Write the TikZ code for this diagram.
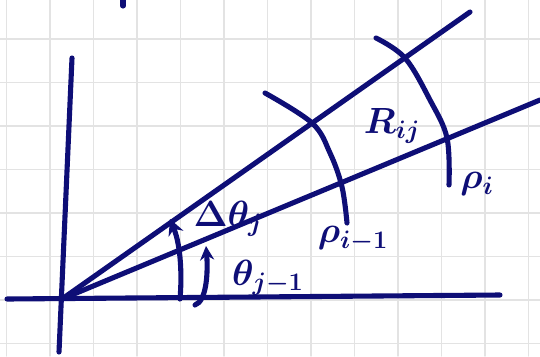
\documentclass[tikz,border=0pt]{standalone}
\usetikzlibrary{arrows.meta}
\definecolor{penblue}{RGB}{14,14,118}
\begin{document}
\begin{tikzpicture}[x=.02cm,y=.02cm,line cap=round,font=\huge\boldmath,
  pen/.style={penblue,line width=2.9pt},
  lbl/.style={text=penblue,inner sep=0pt}]
\useasboundingbox (0,0) rectangle (540,356);
\fill[white] (0,0) rectangle (540,356);
\foreach \i in {0,...,12}{\draw[gray!22,line width=.8pt] (6.5+43.5*\i,0)--(6.5+43.5*\i,356);}
\foreach \j in {0,...,7}{\draw[gray!22,line width=.8pt] (0,12.5+43.5*\j)--(540,12.5+43.5*\j);}
\coordinate (O) at (62,57);
\coordinate (xe) at (500,61);
\coordinate (xw) at (7,57);
\coordinate (yn) at (72,298);
\coordinate (ys) at (59,4);
\coordinate (up) at (470,344);
\coordinate (lo) at (540,256);
\coordinate (dot) at (123,350);
% axes and rays
\draw[pen] (xw)--(xe);
\draw[pen] (ys)--(yn);
\draw[pen] (O)--(up);
\draw[pen] (O)--(lo);
\draw[pen] (dot)--++(0,8);
% arcs rho_{i-1}, rho_i
\draw[pen] plot[smooth,tension=.6] coordinates {(265,263) (312,233) (330,203) (342,169) (347,133)};
\draw[pen] plot[smooth,tension=.6] coordinates {(376,318) (405,298) (430,256) (447,218) (449,171)};
% angle arrows
\draw[pen,-{Stealth[length=9pt,width=9pt]}] (180,57) .. controls (182,80) and (181,110) .. (170,137);
\draw[pen,-{Stealth[length=8pt,width=8pt]}] (195,51) .. controls (207,55) and (208,85) .. (206,110);
\node[lbl] (dth) at (228,137) {$\Delta\theta_j$};
\node[lbl] (th) at (268,78) {$\theta_{j-1}$};
\node[lbl] (rho1) at (353,117) {$\rho_{i-1}$};
\node[lbl] (rho2) at (477,172) {$\rho_i$};
\node[lbl] (R) at (392,230) {$R_{ij}$};
\end{tikzpicture}
\end{document}
